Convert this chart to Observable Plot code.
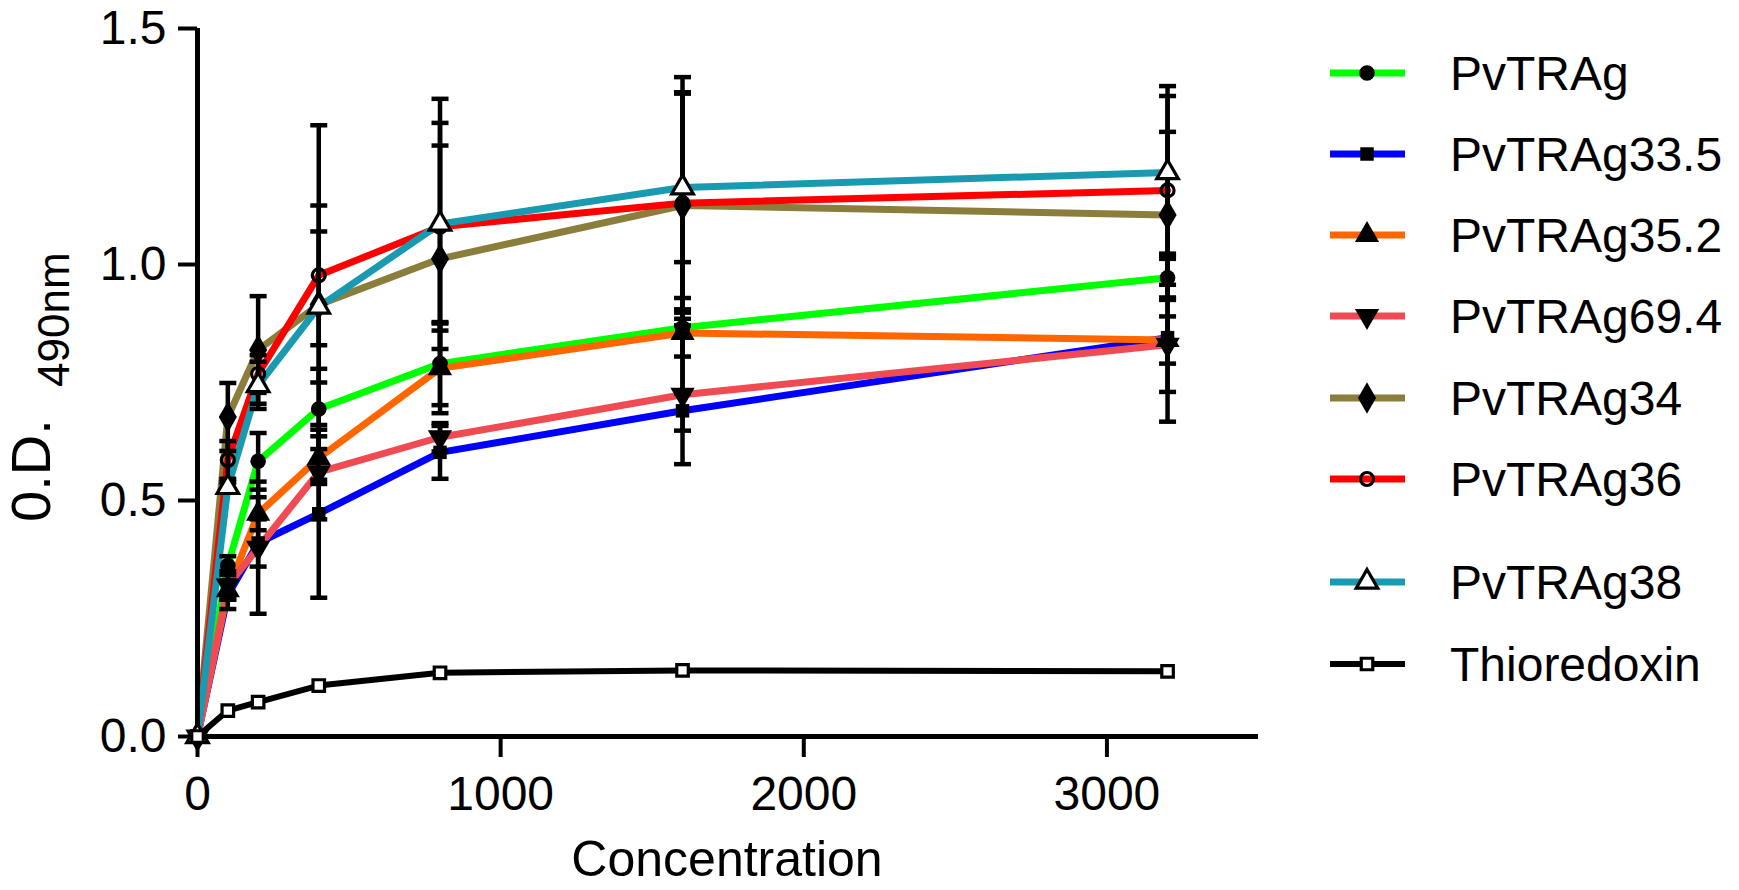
<!DOCTYPE html>
<html>
<head>
<meta charset="utf-8">
<script src="https://cdn.jsdelivr.net/npm/d3@7"></script>
<script src="https://cdn.jsdelivr.net/npm/@observablehq/plot@0.6"></script>
<style>
  html, body { margin: 0; padding: 0; background: #fff; }
  #wrap { position: relative; width: 1739px; height: 890px; background: #fff; overflow: hidden; }
  #wrap > svg { position: absolute; left: 0; top: 0; }
</style>
</head>
<body>
<div id="wrap"></div>
<script>
// ---------------- data ----------------
const concentrations = [0, 100, 200, 400, 800, 1600, 3200];
const seriesNames = ["PvTRAg", "PvTRAg33.5", "PvTRAg35.2", "PvTRAg69.4", "PvTRAg34", "PvTRAg36", "PvTRAg38", "Thioredoxin"];
const seriesColors = ["#00ff00", "#0000ff", "#ff6600", "#f04b52", "#8b7e3c", "#ff0000", "#1a9ab0", "#000000"];

const odPvTRAg     = [0, 0.362, 0.583, 0.694, 0.790, 0.866, 0.972];
const odPvTRAg33_5 = [0, 0.300, 0.410, 0.472, 0.602, 0.690, 0.845];
const odPvTRAg35_2 = [0, 0.310, 0.472, 0.590, 0.780, 0.855, 0.840];
const odPvTRAg69_4 = [0, 0.320, 0.400, 0.560, 0.634, 0.724, 0.830];
const odPvTRAg34   = [0, 0.677, 0.819, 0.915, 1.012, 1.125, 1.105];
const odPvTRAg36   = [0, 0.586, 0.768, 0.977, 1.080, 1.130, 1.157];
const odPvTRAg38   = [0, 0.528, 0.744, 0.910, 1.086, 1.163, 1.195];
const odThioredoxin= [0, 0.055, 0.073, 0.108, 0.135, 0.140, 0.138];

const errPvTRAg     = [0, 0.020, 0.060, 0.085, 0.088, 0.139, 0.047];
const errPvTRAg33_5 = [0, 0.030, 0.050, 0.178, 0.056, 0.042, 0.178];
const errPvTRAg35_2 = [0, 0.020, 0.035, 0.046, 0.095, 0.050, 0.050];
const errPvTRAg69_4 = [0, 0.030, 0.140, 0.100, 0.030, 0.147, 0.100];
const errPvTRAg34   = [0, 0.072, 0.114, 0.380, 0.240, 0.240, 0.176];
const errPvTRAg36   = [0, 0.040, 0.040, 0.148, 0.220, 0.232, 0.200];
const errPvTRAg38   = [0, 0.010, 0.050, 0.160, 0.265, 0.234, 0.183];
const errThioredoxin= [0, 0, 0, 0, 0, 0, 0];

const xTicks = [0, 1000, 2000, 3000];
const yTicks = [0, 0.5, 1.0, 1.5];
const xLabel = "Concentration";
const yLabelMain = "0.D.";
const yLabelSub = "490nm";

// ---------------- build table ----------------
const odValues = [odPvTRAg, odPvTRAg33_5, odPvTRAg35_2, odPvTRAg69_4, odPvTRAg34, odPvTRAg36, odPvTRAg38, odThioredoxin];
const errValues = [errPvTRAg, errPvTRAg33_5, errPvTRAg35_2, errPvTRAg69_4, errPvTRAg34, errPvTRAg36, errPvTRAg38, errThioredoxin];
const rows = [];
seriesNames.forEach((s, i) => {
  concentrations.forEach((c, j) => rows.push({series: s, conc: c, od: odValues[i][j], err: errValues[i][j]}));
});
const errRows = rows.filter(d => d.err > 0);
const capRows = errRows.flatMap(d => [{conc: d.conc, y: d.od + d.err}, {conc: d.conc, y: d.od - d.err}]);

// marker styles per series
const markerStyle = {
  "PvTRAg":      {symbol: "circle",   r: 7.8, fill: "black", stroke: "none", rotate: 0},
  "PvTRAg33.5":  {symbol: "square",   r: 7.6, fill: "black", stroke: "none", rotate: 0},
  "PvTRAg35.2":  {symbol: "triangle", r: 9,   fill: "black", stroke: "none", rotate: 0},
  "PvTRAg69.4":  {symbol: "triangle", r: 9,   fill: "black", stroke: "none", rotate: 180},
  "PvTRAg34":    {symbol: "diamond",  r: 9.5, fill: "black", stroke: "none", rotate: 0},
  "PvTRAg36":    {symbol: "circle",   r: 6.5, fill: "none",  stroke: "black", rotate: 0},
  "PvTRAg38":    {symbol: "triangle", r: 8,   fill: "white", stroke: "black", rotate: 0},
  "Thioredoxin": {symbol: "square",   r: 6.5, fill: "white", stroke: "black", rotate: 0}
};

const capSymbol = { draw(context) { context.moveTo(-8.5, 0); context.lineTo(8.5, 0); } };

const font = "'Liberation Sans', Arial, sans-serif";

const markerMarks = seriesNames.map(s => {
  const m = markerStyle[s];
  return Plot.dot(rows.filter(d => d.series === s), {
    x: "conc", y: "od", symbol: m.symbol, r: m.r,
    fill: m.fill, stroke: m.stroke, strokeWidth: 3.2, rotate: m.rotate
  });
});

const chart = Plot.plot({
  width: 1300,
  height: 890,
  marginLeft: 197,
  marginRight: 42,
  marginTop: 28,
  marginBottom: 154,
  x: {domain: [0, 3500]},
  y: {domain: [0, 1.5]},
  color: {domain: seriesNames, range: seriesColors},
  style: {fontFamily: font, background: "transparent", color: "black", overflow: "visible"},
  marks: [
    Plot.line(rows.filter(d => d.series !== "Thioredoxin"), {x: "conc", y: "od", z: "series", stroke: "series", strokeWidth: 7, strokeLinejoin: "round"}),
    Plot.line(rows.filter(d => d.series === "Thioredoxin"), {x: "conc", y: "od", stroke: "black", strokeWidth: 6}),
    Plot.ruleX(errRows, {x: "conc", y1: d => d.od - d.err, y2: d => d.od + d.err, stroke: "black", strokeWidth: 4.5}),
    Plot.dot(capRows, {x: "conc", y: "y", symbol: capSymbol, r: 5, stroke: "black", strokeWidth: 4.5, fill: "none"}),
    Plot.ruleY([0], {stroke: "black", strokeWidth: 5}),
    Plot.ruleX([0], {stroke: "black", strokeWidth: 5}),
    Plot.axisX({ticks: xTicks, tickSize: 21, tickPadding: 18, fontSize: 48, strokeWidth: 4, tickFormat: d3.format("d"), label: null}),
    Plot.axisY({ticks: yTicks, tickSize: 19, tickPadding: 12, fontSize: 48, strokeWidth: 4, tickFormat: d3.format(".1f"), label: null}),
    ...markerMarks
  ]
});

const wrap = document.getElementById("wrap");
wrap.appendChild(chart);

// ---------------- overlay: axis titles and legend ----------------
const overlay = d3.create("svg")
  .attr("width", 1739).attr("height", 890)
  .style("font-family", font)
  .style("pointer-events", "none");

// x title
overlay.append("text")
  .attr("x", 727).attr("y", 876)
  .attr("text-anchor", "middle")
  .attr("font-size", 50)
  .text(xLabel);

// y title (rotated)
const yt = overlay.append("text")
  .attr("transform", "translate(50,522) rotate(-90)")
  .attr("font-size", 56);
yt.append("tspan").attr("x", 0).attr("y", 0).text(yLabelMain);
yt.append("tspan").attr("x", 135).attr("y", 19).attr("font-size", 44).text(yLabelSub);

// legend
const legendRowY = [73, 154, 235, 316, 398, 479, 582, 664];
const symbolTypes = {circle: d3.symbolCircle, square: d3.symbolSquare, triangle: d3.symbolTriangle, diamond: d3.symbolDiamond};
seriesNames.forEach((s, i) => {
  const g = overlay.append("g").attr("transform", `translate(0,${legendRowY[i]})`);
  g.append("line")
    .attr("x1", 1330).attr("x2", 1405).attr("y1", 0).attr("y2", 0)
    .attr("stroke", seriesColors[i]).attr("stroke-width", i === 7 ? 6 : 7);
  const m = markerStyle[s];
  g.append("path")
    .attr("d", d3.symbol(symbolTypes[m.symbol], Math.PI * m.r * m.r)())
    .attr("transform", `translate(1367,0) rotate(${m.rotate})`)
    .attr("fill", m.fill).attr("stroke", m.stroke).attr("stroke-width", 3.2);
  g.append("text")
    .attr("x", 1450).attr("y", 0).attr("dy", "0.36em")
    .attr("font-size", 48)
    .text(s);
});

wrap.appendChild(overlay.node());
</script>
</body>
</html>
